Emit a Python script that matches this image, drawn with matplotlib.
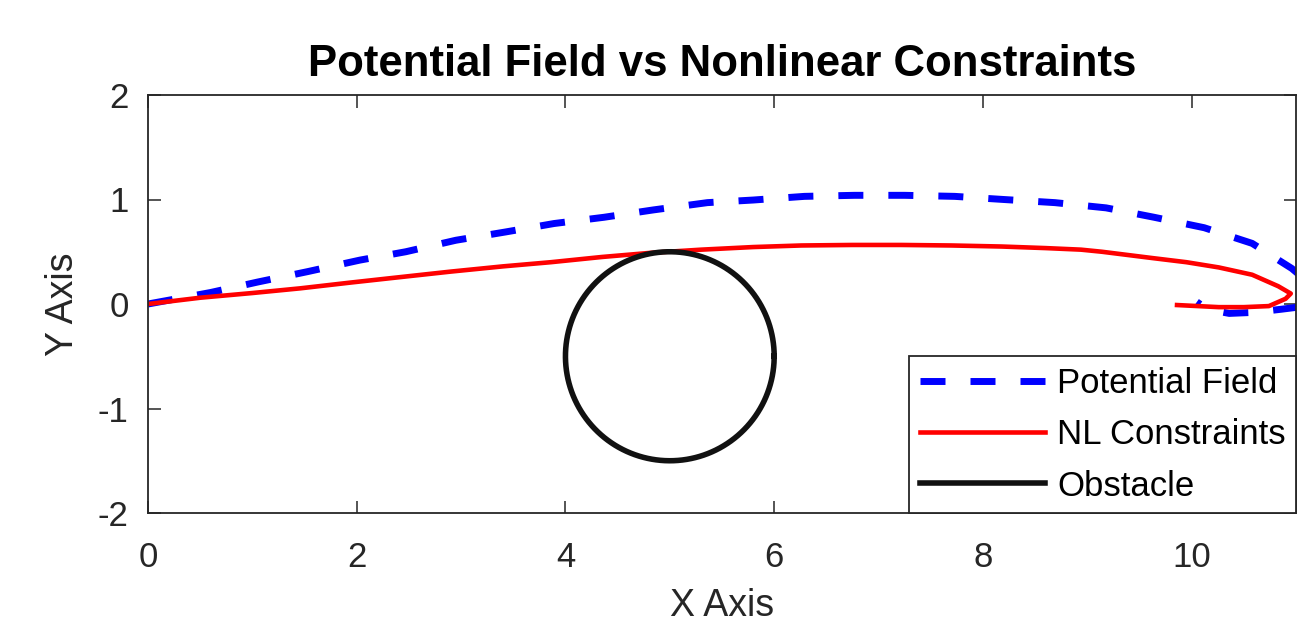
import numpy as np
import matplotlib
matplotlib.use("Agg")
import matplotlib.pyplot as plt

plt.rcParams['font.family'] = ['Liberation Sans', 'DejaVu Sans']
plt.rcParams['axes.unicode_minus'] = False

# Potential field path (x, y)
pf_x = [0.0, 0.6, 1.05, 1.53, 2.03, 2.47, 2.95, 3.43, 3.89, 4.37, 4.84, 5.36, 5.8, 6.29,
        6.77, 7.25, 7.73, 8.2, 8.69, 9.18, 9.64, 10.12, 10.58, 10.96, 11.15, 11.2, 11.1,
        10.86, 10.6, 10.36, 10.15, 10.05]
pf_y = [0.0, 0.11, 0.21, 0.31, 0.42, 0.50, 0.61, 0.69, 0.77, 0.83, 0.90, 0.97, 0.995, 1.03,
        1.04, 1.04, 1.03, 1.0, 0.97, 0.92, 0.83, 0.73, 0.58, 0.34, 0.18, 0.06, -0.02,
        -0.05, -0.08, -0.09, -0.05, 0.02]

# Nonlinear constraints path (x, y)
nl_x = [0.0, 0.5, 1.0, 1.46, 1.94, 2.35, 2.9, 3.4, 3.86, 4.35, 4.82, 5.3, 5.8, 6.26, 6.75,
        7.22, 7.7, 8.18, 8.6, 8.94, 9.14, 9.62, 9.95, 10.26, 10.58, 10.83, 10.95, 10.9,
        10.74, 10.5, 10.26, 9.86]
nl_y = [0.0, 0.06, 0.105, 0.15, 0.205, 0.25, 0.31, 0.36, 0.40, 0.45, 0.49, 0.52, 0.545,
        0.56, 0.565, 0.565, 0.56, 0.55, 0.535, 0.52, 0.50, 0.44, 0.40, 0.35, 0.28, 0.17,
        0.10, 0.05, -0.02, -0.03, -0.03, -0.01]

# Obstacle
obs_center = (5.0, -0.5)
obs_radius = 1.0

xticks = [0, 2, 4, 6, 8, 10]
yticks = [-2, -1, 0, 1, 2]

fig = plt.figure(figsize=(12.97, 6.4), dpi=100)
ax = fig.add_axes([148/1297, (640-513)/640, (1296-148)/1297, (513-95)/640])

ax.plot(pf_x, pf_y, color='#0000ff', lw=5.0, ls=(0, (3.6, 3.6)), label='Potential Field')
ax.plot(nl_x, nl_y, color='#ff0000', lw=3.3, label='NL Constraints')
t = np.linspace(0, 2*np.pi, 300)
ax.plot(obs_center[0] + obs_radius*np.cos(t), obs_center[1] + obs_radius*np.sin(t),
        color='#111111', lw=4.0, label='Obstacle')

ax.set_xlim(0, 11)
ax.set_ylim(-2, 2)
ax.set_xticks(xticks)
ax.set_yticks(yticks)
ax.tick_params(direction='in', length=9, width=1.1, top=True, right=True,
               labelsize=25, colors='#262626')
ax.tick_params(axis='x', pad=20)
ax.tick_params(axis='y', pad=14)
for s in ax.spines.values():
    s.set_linewidth(1.3)
    s.set_color('#262626')

ax.set_title('Potential Field vs Nonlinear Constraints', fontsize=31.5, fontweight='bold', pad=14)
ax.set_xlabel('X Axis', fontsize=27, color='#262626', labelpad=10)
ax.set_ylabel('Y Axis', fontsize=27, color='#262626', labelpad=12)

leg = ax.legend(loc='lower right', borderaxespad=0, fontsize=25, handlelength=3.6,
                handletextpad=0.35, fancybox=False, framealpha=1, labelspacing=0.53,
                borderpad=0.3)
leg.get_frame().set_edgecolor('#262626')
leg.get_frame().set_linewidth(1.3)

fig.savefig('out.png', dpi=100)
